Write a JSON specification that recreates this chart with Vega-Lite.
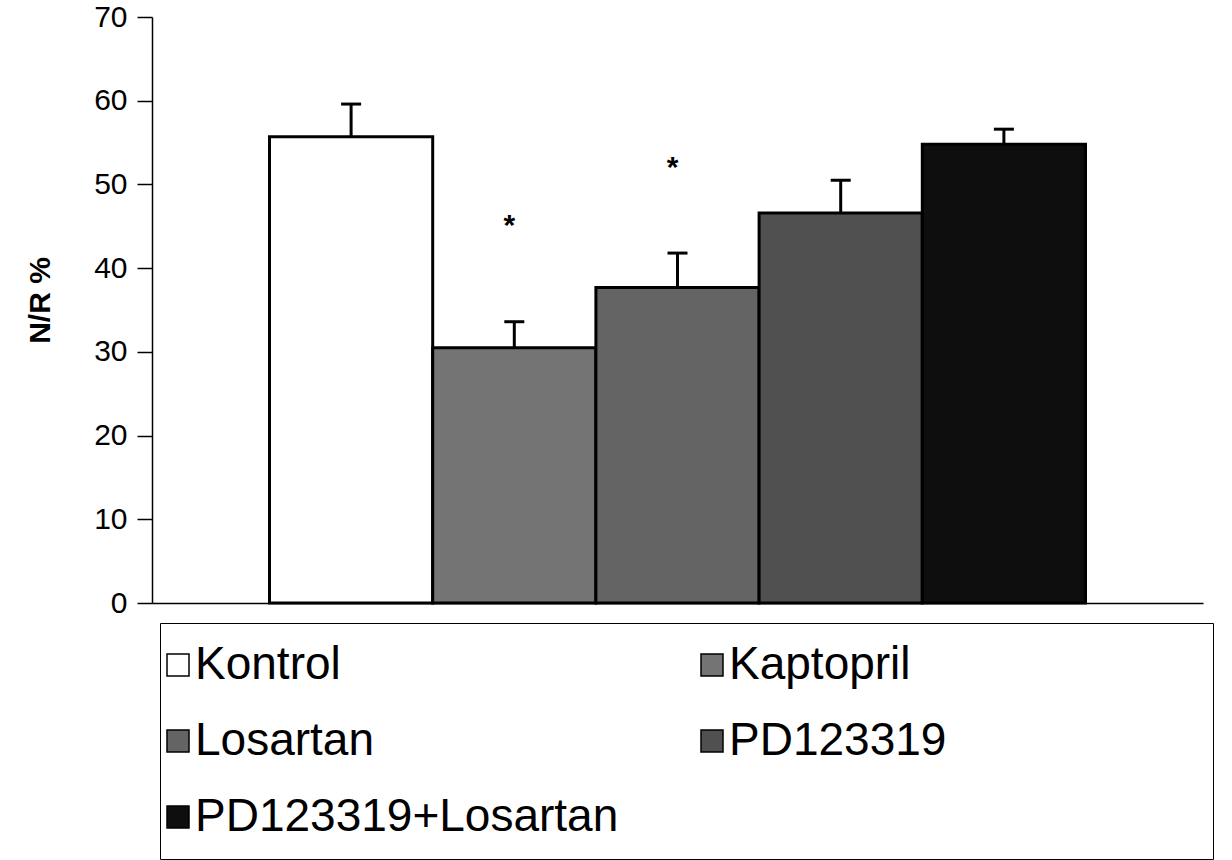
{
  "$schema": "https://vega.github.io/schema/vega-lite/v6.json",
  "autosize": "none",
  "width": 1051,
  "height": 586,
  "padding": {"left": 152, "top": 17, "right": 29, "bottom": 257},
  "background": "white",
  "config": {
    "font": "Liberation Sans",
    "view": {"stroke": null}
  },
  "data": {
    "values": [
      {"group": "Kontrol", "value": 55.7, "upper": 59.6, "star": "", "star_y": null},
      {"group": "Kaptopril", "value": 30.5, "upper": 33.6, "star": "*", "star_y": 44.0},
      {"group": "Losartan", "value": 37.7, "upper": 41.8, "star": "*", "star_y": 50.9},
      {"group": "PD123319", "value": 46.6, "upper": 50.5, "star": "", "star_y": null},
      {"group": "PD123319+Losartan", "value": 54.8, "upper": 56.6, "star": "", "star_y": null}
    ]
  },
  "encoding": {
    "x": {
      "field": "group",
      "type": "nominal",
      "sort": ["Kontrol", "Kaptopril", "Losartan", "PD123319", "PD123319+Losartan"],
      "scale": {"paddingInner": 0, "paddingOuter": 0.72},
      "axis": {"labels": false, "ticks": false, "title": null, "domainColor": "black", "domainWidth": 1.5}
    }
  },
  "layer": [
    {
      "mark": {"type": "rule", "strokeWidth": 3, "color": "black"},
      "encoding": {
        "y": {"field": "value", "type": "quantitative"},
        "y2": {"field": "upper"}
      }
    },
    {
      "mark": {"type": "tick", "size": 20, "thickness": 3, "color": "black", "opacity": 1},
      "encoding": {
        "y": {"field": "upper", "type": "quantitative"}
      }
    },
    {
      "mark": {"type": "bar", "stroke": "black", "strokeWidth": 3},
      "encoding": {
        "y": {
          "field": "value",
          "type": "quantitative",
          "scale": {"domain": [0, 70], "nice": false},
          "axis": {
            "values": [0, 10, 20, 30, 40, 50, 60, 70],
            "grid": false,
            "title": "N/R %",
            "titleFontSize": 30,
            "titleFontWeight": "bold",
            "titleColor": "black",
            "titlePadding": 38,
            "titleY": 283,
            "labelFontSize": 30,
            "labelColor": "black",
            "labelPadding": 10,
            "tickSize": 15,
            "tickColor": "black",
            "tickWidth": 1.5,
            "domainColor": "black",
            "domainWidth": 1.5
          }
        },
        "fill": {
          "field": "group",
          "type": "nominal",
          "sort": ["Kontrol", "Kaptopril", "Losartan", "PD123319", "PD123319+Losartan"],
          "scale": {
            "domain": ["Kontrol", "Kaptopril", "Losartan", "PD123319", "PD123319+Losartan"],
            "range": ["#ffffff", "#747474", "#646464", "#505050", "#0e0e0e"]
          },
          "legend": {
            "orient": "none",
            "direction": "horizontal",
            "legendX": 8,
            "legendY": 606,
            "title": "\u00a0",
            "titleOrient": "right",
            "titlePadding": 248,
            "titleFontSize": 10,
            "columns": 2,
            "columnPadding": 79,
            "rowPadding": 30,
            "padding": 19,
            "strokeColor": "black",
            "symbolType": "square",
            "symbolSize": 484,
            "symbolOffset": -24,
            "symbolStrokeColor": "black",
            "symbolStrokeWidth": 1.5,
            "labelFontSize": 46,
            "labelColor": "black",
            "labelOffset": -6,
            "labelLimit": 700
          }
        }
      }
    },
    {
      "mark": {"type": "text", "fontSize": 30, "fontWeight": "bold", "color": "black", "baseline": "alphabetic", "dx": -5},
      "encoding": {
        "y": {"field": "star_y", "type": "quantitative"},
        "text": {"field": "star"}
      }
    }
  ]
}
